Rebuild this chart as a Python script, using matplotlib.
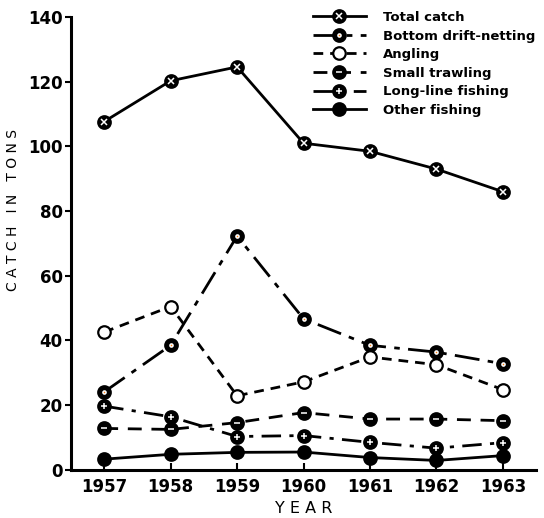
import matplotlib.pyplot as plt

years = [1957, 1958, 1959, 1960, 1961, 1962, 1963]

total_catch = [107.7, 120.3, 124.6, 101.0, 98.5, 93.0, 86.0]
bottom_drift = [24.1, 38.5, 72.3, 46.7, 38.5, 36.4, 32.8]
angling = [42.6, 50.5, 22.9, 27.2, 34.9, 32.5, 24.8]
small_trawling = [12.8, 12.5, 14.6, 17.7, 15.7, 15.7, 15.2]
long_line = [19.7, 16.4, 10.3, 10.6, 8.5, 6.7, 8.4]
other_fishing = [3.3, 4.8, 5.4, 5.5, 3.8, 2.9, 4.4]

plt.rcParams['font.family'] = 'DejaVu Sans'
plt.rcParams['font.weight'] = 'bold'

fig = plt.figure(figsize=(5.44, 5.18), dpi=100)
ax = fig.add_axes([0.1305, 0.093, 0.855, 0.874])

lw = 2.0
ms = 9

def series(y, ls, face, inner=None):
    ln, = ax.plot(years, y, color='black', lw=lw, linestyle=ls, marker='o',
                  ms=ms, mfc=face, mec='black', mew=1.6, zorder=3)
    if inner is None:
        return ln
    over, = ax.plot(years, y, linestyle='none', marker=inner, ms=4.5,
                    mec='white', mew=1.1, zorder=4)
    return (ln, over)

h1 = series(total_catch, '-', 'black', 'x')
h2 = series(bottom_drift, (0, (9, 3, 2, 3)), 'black', '.')
h3 = series(angling, (0, (3.5, 2.5)), 'white')
h4 = series(small_trawling, (0, (5, 3.5)), 'black', '_')
h5 = series(long_line, (0, (7, 3, 1.5, 3)), 'black', '+')
h6 = series(other_fishing, '-', 'black')

ax.set_xlim(1956.5, 1963.5)
ax.set_ylim(0, 140)
ax.set_xticks(years)
ax.set_yticks(range(0, 141, 20))
ax.tick_params(axis='x', direction='in', length=5, width=1.5, labelsize=12, pad=6)
ax.tick_params(axis='y', direction='out', length=4, width=1.5, labelsize=12, pad=2)
for s in ['top', 'right']:
    ax.spines[s].set_visible(False)
for s in ['left', 'bottom']:
    ax.spines[s].set_linewidth(2.2)

ax.set_ylabel('C A T C H   I N   T O N S', fontsize=10)
ax.yaxis.set_label_coords(-0.11, 0.574)
ax.set_xlabel('Y E A R', fontsize=11.5)
ax.xaxis.set_label_coords(0.5, -0.068)

leg = ax.legend([h1, h2, h3, h4, h5, h6],
                ['Total catch', 'Bottom drift-netting', 'Angling',
                 'Small trawling', 'Long-line fishing', 'Other fishing'],
                loc='upper left', bbox_to_anchor=(313 / 544, 1 - 11 / 518),
                bbox_transform=fig.transFigure, frameon=False,
                borderpad=0, borderaxespad=0,
                fontsize=9.5, handlelength=4.0, handletextpad=1.3,
                labelspacing=0.42)

fig.savefig('out.png', dpi=100)
